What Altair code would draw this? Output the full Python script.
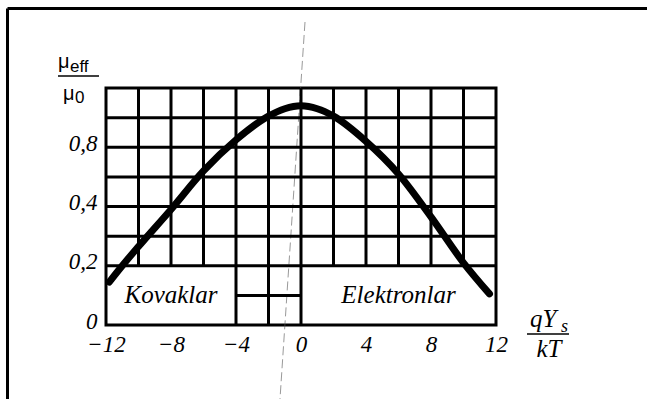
import altair as alt
import pandas as pd

# Effective surface mobility (mu_eff / mu_0) against normalised surface potential qY_s/kT
surface_potential = [-11.8, -11, -10, -8, -6, -4, -2, -1, 0, 1, 2, 4, 6, 8, 10, 11.6]
mobility_ratio = [0.145, 0.2, 0.265, 0.39, 0.52, 0.625, 0.705, 0.73, 0.74, 0.73,
                  0.705, 0.62, 0.51, 0.365, 0.21, 0.105]

# Grid layout (data units)
grid_x_upper = [-10, -8, -6, -4, -2, 0, 2, 4, 6, 8, 10]   # verticals from 0.2 up to 0.8
grid_x_lower = [-4, -2, 0]                                # verticals continuing down to 0
grid_y_full = [0.2, 0.3, 0.4, 0.5, 0.6, 0.7]              # full-width horizontals
grid_y_partial = [0.1]                                    # horizontal between -4 and 0

# Region captions
region_names = ["Kovaklar", "Elektronlar"]
region_x = [-8, 6]
region_y = [0.1, 0.1]

# Axis labels as printed
x_tick_values = [-12, -8, -4, 0, 4, 8, 12]
x_tick_text = ["\u221212", "\u22128", "\u22124", "0", "4", "8", "12"]
y_tick_values = [0, 0.2, 0.4, 0.6]
y_tick_text = ["0", "0,2", "0,4", "0,8"]

X_MIN, X_MAX, Y_MIN, Y_MAX = -12, 12, 0, 0.8

segments = []
for gx in grid_x_upper:
    segments.append({"x": gx, "x2": gx, "y": 0.2, "y2": Y_MAX})
for gx in grid_x_lower:
    segments.append({"x": gx, "x2": gx, "y": Y_MIN, "y2": 0.2})
for gy in grid_y_full:
    segments.append({"x": X_MIN, "x2": X_MAX, "y": gy, "y2": gy})
for gy in grid_y_partial:
    segments.append({"x": -4, "x2": 0, "y": gy, "y2": gy})
grid_df = pd.DataFrame(segments)

curve_df = pd.DataFrame({"v": surface_potential, "m": mobility_ratio})
region_df = pd.DataFrame({"name": region_names, "x": region_x, "y": region_y})


def label_expr(values, texts):
    parts = [f"datum.value == {v} ? '{t}'" for v, t in zip(values, texts)]
    return " : ".join(parts) + " : ''"


x_scale = alt.Scale(domain=[X_MIN, X_MAX], nice=False, zero=False)
y_scale = alt.Scale(domain=[Y_MIN, Y_MAX], nice=False, zero=False)

x_axis = alt.Axis(values=x_tick_values, labelExpr=label_expr(x_tick_values, x_tick_text),
                  grid=False, domain=False, ticks=False, title=None,
                  labelFont="Liberation Serif", labelFontStyle="italic", labelFontSize=23,
                  labelColor="black", labelPadding=8, labelAlign="center")
y_axis = alt.Axis(values=y_tick_values, labelExpr=label_expr(y_tick_values, y_tick_text),
                  grid=False, domain=False, ticks=False, title=None,
                  labelFont="Liberation Serif", labelFontStyle="italic", labelFontSize=23,
                  labelColor="black", labelPadding=9, labelOffset=-4)

grid = alt.Chart(grid_df).mark_rule(color="black", strokeWidth=3).encode(
    x=alt.X("x:Q", scale=x_scale, axis=x_axis),
    x2="x2",
    y=alt.Y("y:Q", scale=y_scale, axis=y_axis),
    y2="y2",
)

curve = alt.Chart(curve_df).mark_line(
    color="black", strokeWidth=7, strokeCap="round", strokeJoin="round", interpolate="monotone"
).encode(
    x=alt.X("v:Q", scale=x_scale),
    y=alt.Y("m:Q", scale=y_scale),
)

regions = alt.Chart(region_df).mark_text(
    font="Liberation Serif", fontStyle="italic", fontSize=25, color="black", baseline="middle"
).encode(
    x=alt.X("x:Q", scale=x_scale),
    y=alt.Y("y:Q", scale=y_scale),
    text="name:N",
)

one = pd.DataFrame({"k": [0]})


def note(text, x, y, size, font="Liberation Serif", style="italic", align="left", baseline="alphabetic"):
    return alt.Chart(one).mark_text(
        text=text, font=font, fontStyle=style, fontSize=size, color="black",
        align=align, baseline=baseline
    ).encode(x=alt.value(x), y=alt.value(y))


def line(x, y, x2, y2, width, color="black", dash=None, opacity=1.0):
    kw = dict(color=color, strokeWidth=width, opacity=opacity)
    if dash:
        kw["strokeDash"] = dash
    return alt.Chart(one).mark_rule(**kw).encode(
        x=alt.value(x), y=alt.value(y), x2=alt.value(x2), y2=alt.value(y2)
    )


# y-axis title: mu_eff over mu_0
y_title = alt.layer(
    note("\u03bc", -48, -20, 20, font="Liberation Sans", style="normal"),
    note("eff", -36, -16, 17, font="Liberation Sans", style="normal"),
    line(-48, -12, -7, -12, 1.5),
    note("\u03bc", -43, 12, 20, font="Liberation Sans", style="normal"),
    note("0", -31, 15, 17, font="Liberation Sans", style="normal"),
)

# x-axis title: qY_s over kT
x_title = alt.layer(
    note("qY", 424, 239, 25),
    note("s", 455, 244, 18),
    line(421, 246, 463, 246, 1.5),
    note("kT", 443, 269, 25, align="center"),
)

# outer frame and the thin dashed guide
frame = alt.layer(
    line(-98.5, -79.5, 541, -79.5, 3),
    line(-98.5, -79.5, -98.5, 311, 3),
    line(199, -66, 174, 311, 1, color="#555555", dash=[9, 4], opacity=0.6),
)

chart = alt.layer(frame, grid, curve, regions, y_title, x_title).properties(
    width=390,
    height=237,
    padding={"left": 106, "top": 88, "right": 151, "bottom": 74},
    autosize=alt.AutoSizeParams(type="none"),
    background="white",
).configure_view(stroke="black", strokeWidth=3)

chart.save("out.html", embed_options={"renderer": "svg", "actions": False})
